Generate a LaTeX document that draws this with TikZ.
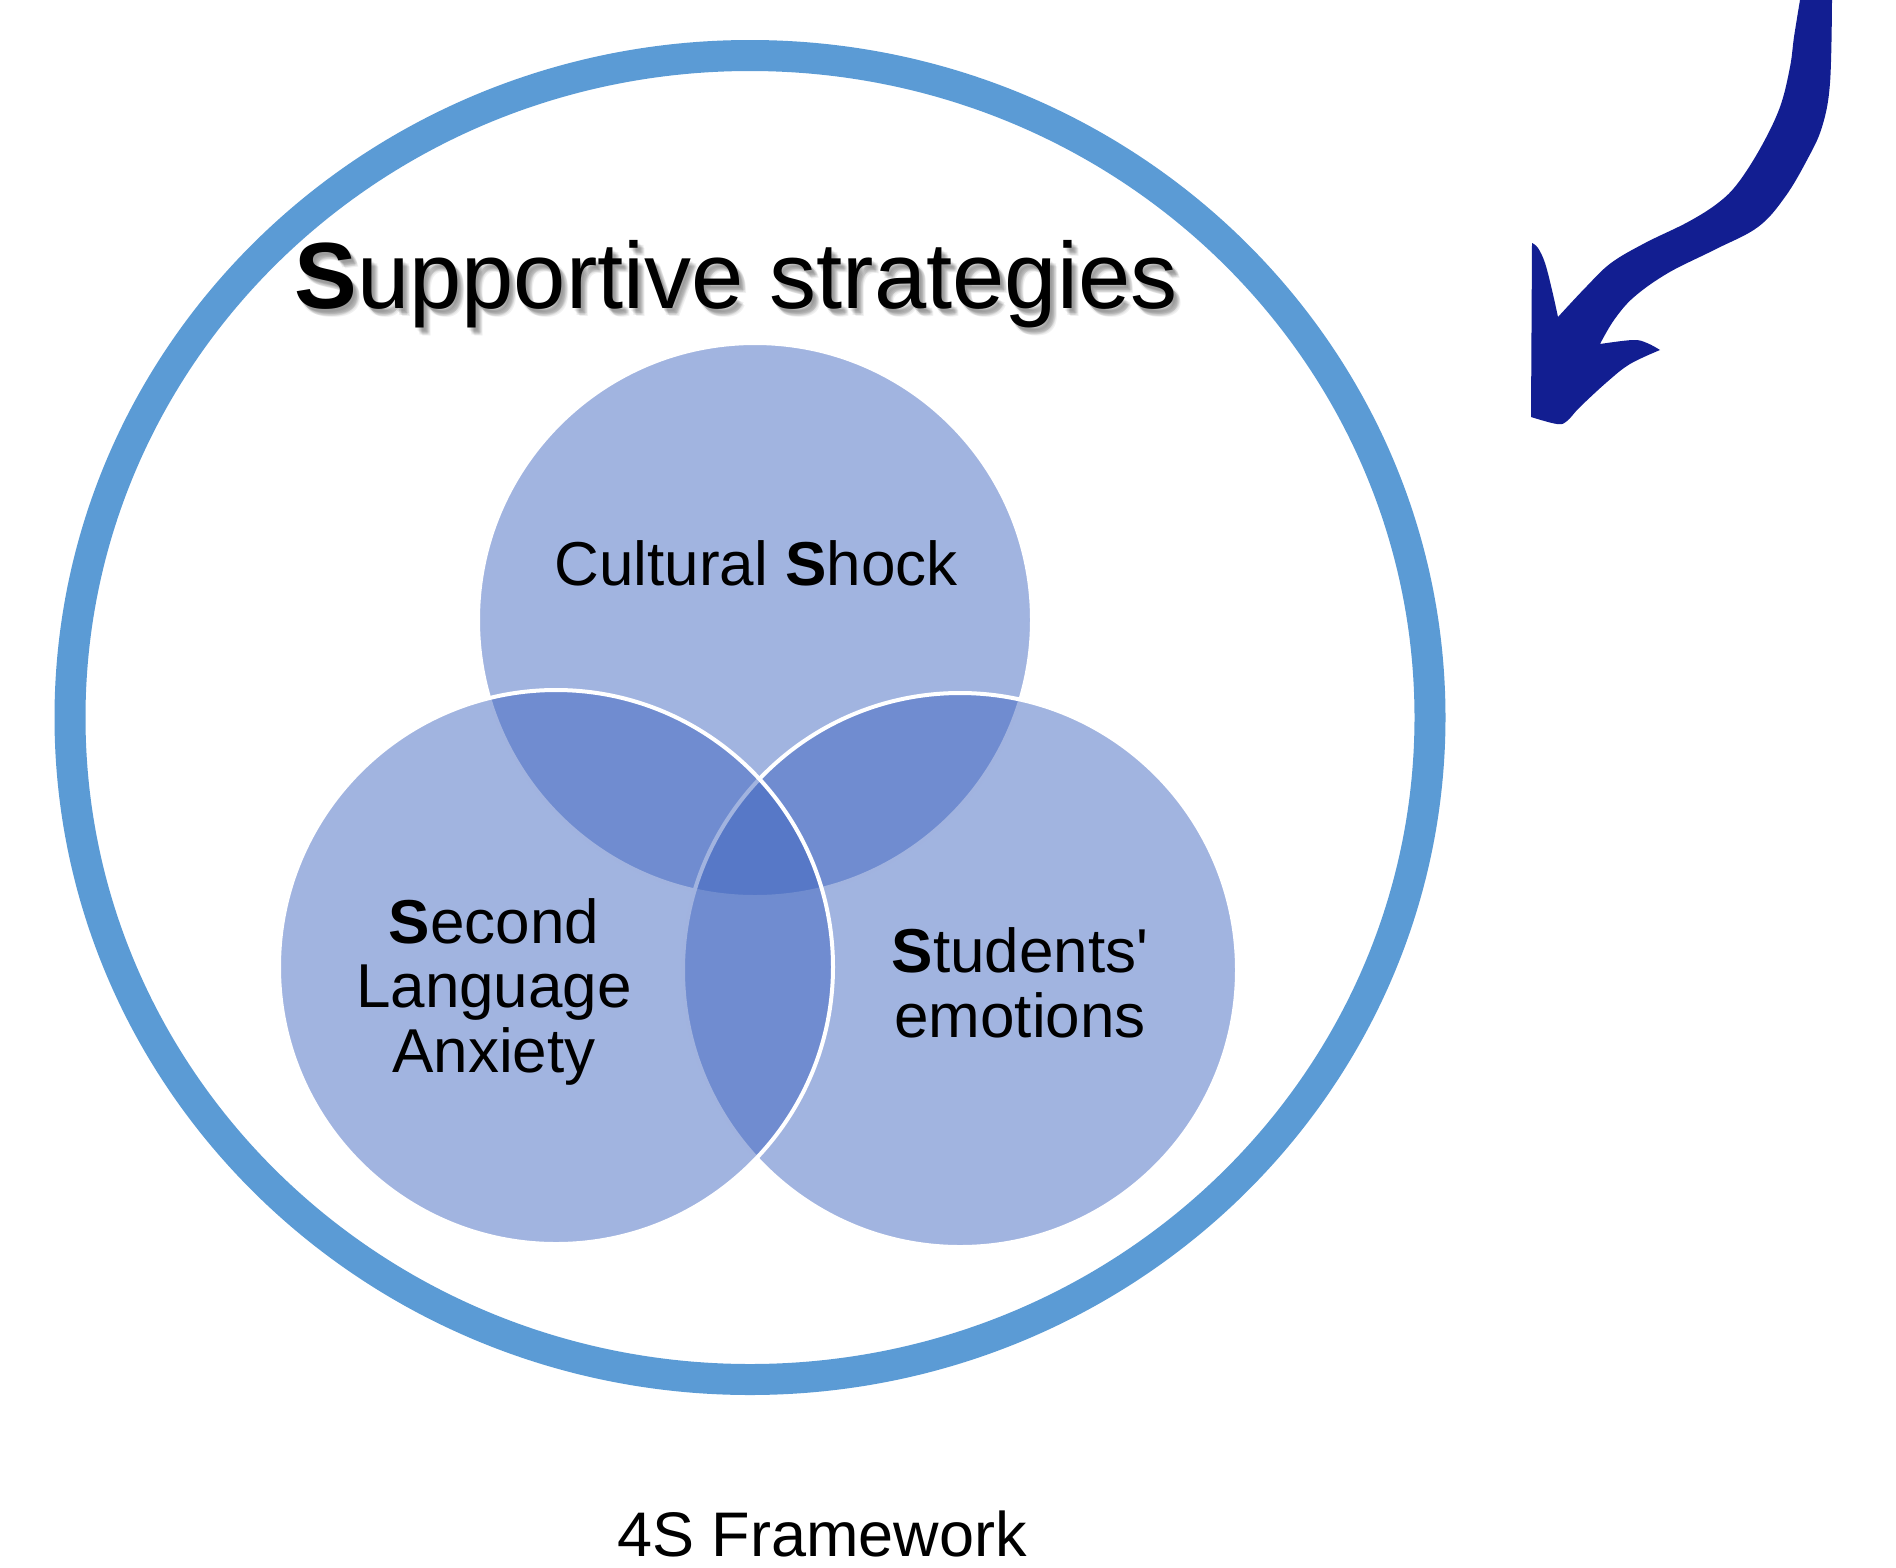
\documentclass[tikz,border=0pt]{standalone}
\usepackage{fontspec}
\setmainfont{Liberation Sans}[Ligatures=TeXOff]
\definecolor{ringblue}{RGB}{91,155,213}
\definecolor{vennblue}{RGB}{59,98,190}
\definecolor{arrowblue}{RGB}{18,30,145}
\begin{document}
\begin{tikzpicture}[x=1pt,y=-1pt,
  venn/.style={fill=vennblue,fill opacity=0.48,draw=white,draw opacity=1,line width=4pt},
  lab/.style={anchor=base,inner sep=0pt,font=\fontsize{62}{64}\selectfont,text=black},
  ttl/.style={anchor=base,inner sep=0pt,font=\fontsize{94}{100}\selectfont}]
\useasboundingbox (0,0) rectangle (1896,1567);
% outer ring
\draw[ringblue,line width=31pt] (750,717.5) ellipse [x radius=680, y radius=662];
% venn circles
\path[venn] (755,620) circle [radius=277];
\path[venn] (960,970) circle [radius=277];
\path[venn] (556,967) circle [radius=277];
% title with soft shadow
\foreach \dx/\dy in {2/3,3/4,4/5,5/6,6/7,7/8,4/7,6/5}
  \node[ttl,text=black,opacity=0.06] at (736+\dx,308+\dy) {\textbf{S}upportive strategies};
\node[ttl,text=black] (title) at (736,308) {\textbf{S}upportive strategies};
% labels
\node[lab] (cs) at (756,585) {Cultural \textbf{S}hock};
\node[lab] (sla1) at (494,943) {\textbf{S}econd};
\node[lab] (sla2) at (494,1007) {Language};
\node[lab] (sla3) at (494,1072) {Anxiety};
\node[lab] (se1) at (1020,972) {\textbf{S}tudents'};
\node[lab] (se2) at (1020,1037) {emotions};
\node[lab,font=\fontsize{63}{66}\selectfont] (fw) at (822,1556) {4S Framework};
% curved arrow
\fill[arrowblue] (1800,0)
  -- plot[smooth,tension=0.6] coordinates {(1800,0) (1794,37) (1790,67) (1780,107) (1761,147) (1738,183) (1718,203) (1688,222) (1645,243) (1611,263) (1586,287) (1558,317)}
  -- plot[smooth,tension=0.6] coordinates {(1558,317) (1552,290) (1545,263) (1538,248) (1532,243)}
  -- (1531,417)
  -- plot[smooth,tension=0.6] coordinates {(1531,417) (1557,424) (1567,421) (1580,407) (1607,382) (1630,364) (1660,350)}
  -- plot[smooth,tension=0.6] coordinates {(1660,350) (1647,343) (1633,340) (1600,344)}
  -- plot[smooth,tension=0.6] coordinates {(1600,344) (1614,320) (1634,297) (1668,273) (1714,250) (1758,227) (1785,197) (1807,160) (1822,127) (1830,83) (1832,0)}
  -- cycle;
\end{tikzpicture}
\end{document}
